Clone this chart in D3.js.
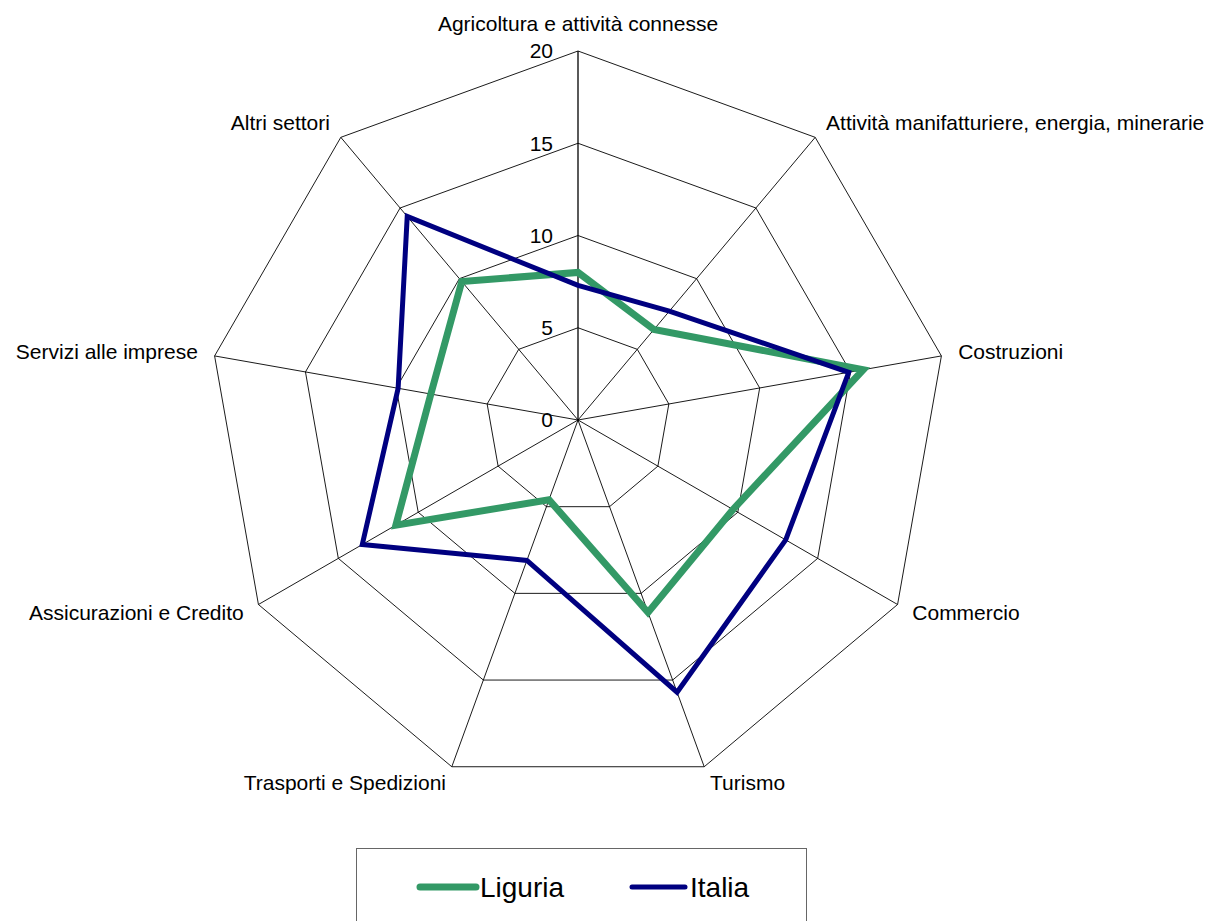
<!DOCTYPE html>
<html>
<head>
<meta charset="utf-8">
<script src="https://cdn.jsdelivr.net/npm/d3@7"></script>
<style>
  body { margin: 0; background: #fff; }
  svg { display: block; font-family: "Liberation Sans", Arial, sans-serif; }
</style>
</head>
<body>
<svg width="1216" height="921"></svg>
<script>
const categories = [
  "Agricoltura e attività connesse",
  "Attività manifatturiere, energia, minerarie",
  "Costruzioni",
  "Commercio",
  "Turismo",
  "Trasporti e Spedizioni",
  "Assicurazioni e Credito",
  "Servizi alle imprese",
  "Altri settori"
];
const liguria = [8.0, 6.4, 15.7, 9.7, 11.1, 4.6, 11.4, 8.1, 9.8];
const italia = [7.3, 7.7, 14.9, 13.0, 15.7, 8.1, 13.5, 9.9, 14.4];
const ticks = [0, 5, 10, 15, 20];
const seriesNames = ["Liguria", "Italia"];
const seriesColors = ["#339966", "#000080"];

const svg = d3.select('svg');
const cx = 578, cy = 420;
const g = svg.append('g').attr('transform', `translate(${cx},${cy})`);

const r = d3.scaleLinear().domain([0, 20]).range([0, 369]);
const angle = d3.scaleLinear().domain([0, categories.length]).range([0, 2 * Math.PI]);

const px = (i, v) => r(v) * Math.sin(angle(i));
const py = (i, v) => -r(v) * Math.cos(angle(i));

// rings
g.selectAll('.ring')
  .data(ticks.slice(1))
  .join('polygon')
  .attr('points', t => categories.map((c, i) => `${px(i, t)},${py(i, t)}`).join(' '))
  .attr('fill', 'none')
  .attr('stroke', '#000')
  .attr('stroke-width', 0.9);

// spokes
g.selectAll('.spoke')
  .data(categories)
  .join('line')
  .attr('x1', 0).attr('y1', 0)
  .attr('x2', (c, i) => px(i, 20))
  .attr('y2', (c, i) => py(i, 20))
  .attr('stroke', '#000')
  .attr('stroke-width', (c, i) => i == 0 ? 1.3 : 0.9);

// tick labels
g.selectAll('.tick')
  .data(ticks)
  .join('text')
  .attr('x', -25)
  .attr('y', t => -r(t))
  .attr('dy', '0.35em')
  .attr('text-anchor', 'end')
  .attr('font-size', 21)
  .text(t => t);

// category labels
g.selectAll('.cat')
  .data(categories)
  .join('text')
  .attr('x', (c, i) => px(i, 20) + 17 * Math.sin(angle(i)))
  .attr('y', (c, i) => py(i, 20) + 6 - 18 * Math.cos(angle(i)) - (i == 0 ? 8 : 0))
  .attr('text-anchor', (c, i) => {
    const s = Math.sin(angle(i));
    return Math.abs(s) < 0.01 ? 'middle' : (s > 0 ? 'start' : 'end');
  })
  .attr('font-size', 21)
  .attr('fill', '#000')
  .text(c => c);

// series
const line = d3.lineRadial()
  .angle((v, i) => angle(i))
  .radius(v => r(v))
  .curve(d3.curveLinearClosed);

g.selectAll('.series')
  .data([liguria, italia])
  .join('path')
  .attr('d', d => line(d))
  .attr('fill', 'none')
  .attr('stroke', (d, i) => seriesColors[i])
  .attr('stroke-width', (d, i) => i == 0 ? 7 : 5)
  .attr('stroke-linejoin', 'miter');

// legend
svg.append('rect')
  .attr('x', 356.5).attr('y', 848.5)
  .attr('width', 450).attr('height', 90)
  .attr('fill', '#fff')
  .attr('stroke', '#666')
  .attr('stroke-width', 1);

const leg = svg.selectAll('.leg')
  .data(seriesNames)
  .join('g')
  .attr('transform', (d, i) => `translate(${i == 0 ? 420 : 632}, 887)`);

leg.append('line')
  .attr('x1', 0).attr('x2', (d, i) => i == 0 ? 56 : 53)
  .attr('y1', 0).attr('y2', 0)
  .attr('stroke', (d, i) => seriesColors[i])
  .attr('stroke-width', (d, i) => i == 0 ? 7 : 5)
  .attr('stroke-linecap', 'round');

leg.append('text')
  .attr('x', (d, i) => i == 0 ? 60 : 58)
  .attr('y', 10)
  .attr('font-size', 28)
  .text(d => d);
</script>
</body>
</html>
